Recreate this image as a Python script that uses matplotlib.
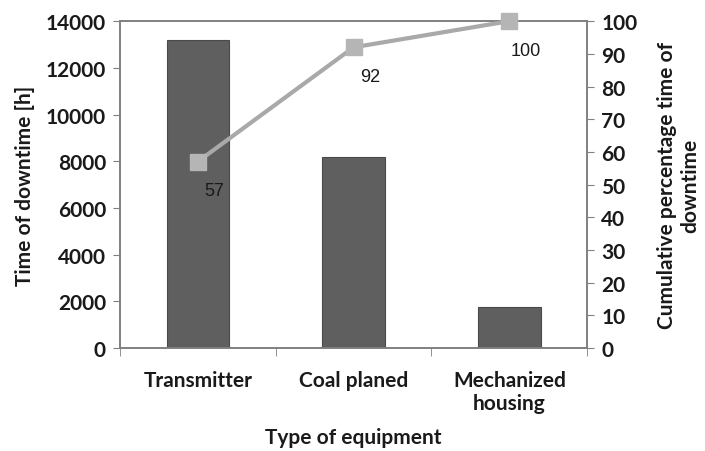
import numpy as np
import matplotlib.pyplot as plt

categories = ['Transmitter', 'Coal planed', 'Mechanized\nhousing']
downtime = [13200, 8200, 1750]
cumulative = [57, 92, 100]

plt.rcParams['font.family'] = ['Lato', 'DejaVu Sans']

def main():
    fig = plt.figure(figsize=(7.05, 4.52), dpi=100)
    ax = fig.add_axes([0.170, 0.228, 0.663, 0.723])
    x = np.arange(len(categories))
    ax.bar(x, downtime, width=0.4, color='#5f5f5f', edgecolor='#4a4a4a', linewidth=0.8)
    ax.set_xlim(-0.5, len(categories) - 0.5)
    ax.set_ylim(0, 14000)
    ax.set_yticks(np.arange(0, 14001, 2000))
    ax.set_xticks(x)
    ax.set_xticklabels(categories, fontsize=15, fontweight='bold', color='#1a1a1a')
    ax.set_xticks(np.arange(-0.5, len(categories), 1), minor=True)
    ax.tick_params(axis='x', which='major', length=0, pad=16)
    ax.tick_params(axis='x', which='minor', length=6, color='#808080', direction='out')
    ax.tick_params(axis='y', length=5, color='#808080', labelsize=15, labelcolor='#1a1a1a', pad=5)
    for lab in ax.get_yticklabels():
        lab.set_fontweight('bold')
    ax.set_ylabel('Time of downtime [h]', fontsize=15, fontweight='bold', color='#1a1a1a', labelpad=8)
    ax.set_xlabel('Type of equipment', fontsize=15, fontweight='bold', color='#1a1a1a', labelpad=10)
    for s in ax.spines.values():
        s.set_color('#808080')
        s.set_linewidth(1.2)

    ax2 = ax.twinx()
    ax2.plot(x, cumulative, color='#a9a9a9', linewidth=3, marker='s', markersize=12,
             markerfacecolor='#b5b5b5', markeredgecolor='#b5b5b5', clip_on=False, zorder=5)
    ax2.set_ylim(0, 100)
    ax2.set_yticks(np.arange(0, 101, 10))
    ax2.tick_params(axis='y', length=5, color='#808080', labelsize=15, labelcolor='#1a1a1a', pad=5)
    for lab in ax2.get_yticklabels():
        lab.set_fontweight('bold')
    ax2.set_ylabel('Cumulative percentage time of\ndowntime', fontsize=15, fontweight='bold',
                   color='#1a1a1a', labelpad=14)
    for s in ax2.spines.values():
        s.set_color('#808080')
        s.set_linewidth(1.2)
    for xi, c in zip(x, cumulative):
        ax2.annotate(str(c), (xi, c), xytext=(12, -21), textcoords='offset points',
                     ha='center', va='center', fontsize=13, family='Liberation Sans', color='#1a1a1a')

    plt.savefig('out.png')

if __name__ == "__main__":
    main()
